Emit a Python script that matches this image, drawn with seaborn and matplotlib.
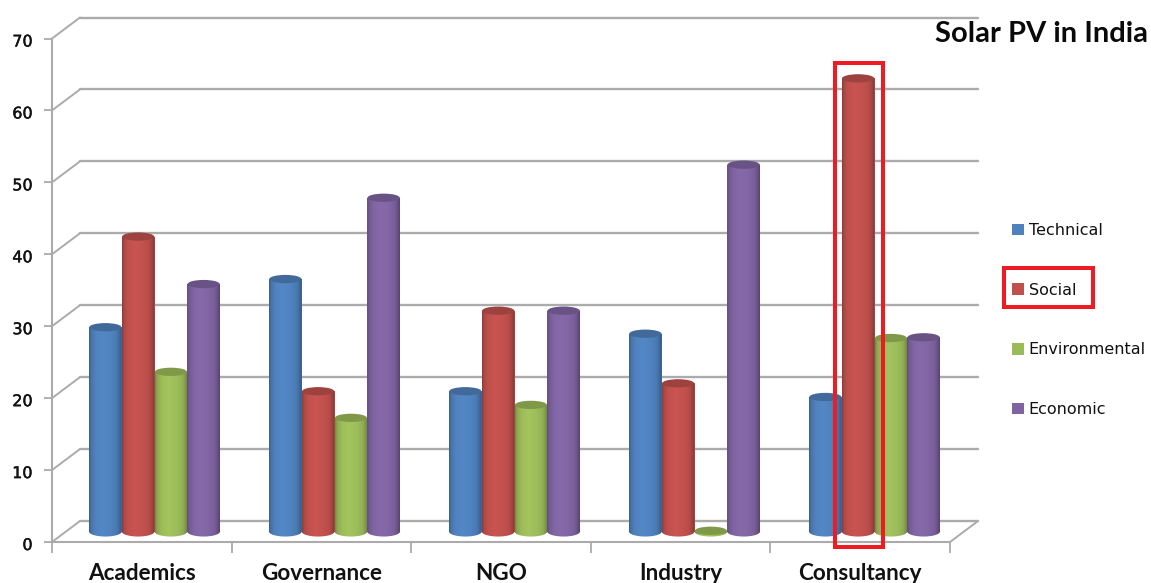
import numpy as np
import pandas as pd
import matplotlib
matplotlib.use("Agg")
import matplotlib.pyplot as plt
import matplotlib.patheffects as pe
from matplotlib.colors import to_rgb
from matplotlib.patches import Ellipse, Polygon, Rectangle
from matplotlib.transforms import Affine2D
import seaborn as sns

# Survey scores per stakeholder group and sustainability dimension
categories = ["Academics", "Governance", "NGO", "Industry", "Consultancy"]
technical = [28.4, 35.1, 19.5, 27.5, 18.7]
social = [41.0, 19.5, 30.7, 20.6, 63.0]
environmental = [22.2, 15.8, 17.6, 0.1, 26.9]
economic = [34.4, 46.4, 30.7, 51.0, 27.0]
dimensions = ["Technical", "Social", "Environmental", "Economic"]
colors = ["#4f81bd", "#c0504d", "#9bbb59", "#8064a2"]
y_ticks = [0, 10, 20, 30, 40, 50, 60, 70]

W, H = 1151, 583
GRID = "#ababab"
TEXT = "#111111"

sns.set_theme(style="white")
plt.rcParams["font.family"] = ["DejaVu Sans"]

fig = plt.figure(figsize=(W / 100, H / 100), dpi=100, facecolor="white")


def axes_px(left, right, top, bottom):
    """Axes placed by pixel edges, measured from the top-left corner."""
    return fig.add_axes([left / W, 1 - bottom / H, (right - left) / W, (bottom - top) / H])


# Front plane of the pseudo-3D box: carries the axes, ticks and labels
ax = axes_px(52, 950, 38.5, 542)
ax.set_xlim(-0.5, 4.5)
ax.set_ylim(0, 70)
ax.patch.set_alpha(0)
for side in ("top", "right"):
    ax.spines[side].set_visible(False)
for side in ("left", "bottom"):
    ax.spines[side].set_color(GRID)
    ax.spines[side].set_linewidth(1.5)
ax.set_yticks(y_ticks)
ax.set_yticklabels([str(v) for v in y_ticks], fontsize=11.5, color=TEXT)
ax.tick_params(axis="y", left=True, length=6, width=1.3, color=GRID, pad=8)
for label in ax.get_yticklabels():
    label.set_transform(label.get_transform() + Affine2D().translate(0, -2))
    label.set_path_effects([pe.withStroke(linewidth=0.3, foreground=TEXT)])
ax.set_xticks(range(len(categories)))
ax.set_xticklabels(categories, fontsize=16.2, fontweight="bold", family="Lato", color=TEXT)
ax.tick_params(axis="x", bottom=False, pad=9)
ax.set_xticks(np.arange(-0.5, 5), minor=True)
ax.tick_params(axis="x", which="minor", bottom=True, length=8, width=1.3, color=GRID)

# Back wall and floor: the same value scale pushed back by a fixed pixel offset
depth = Affine2D().translate(28, 21)
back = ax.transData + depth
for v in y_ticks:
    ax.plot([-0.5, 4.5], [v, v], transform=back, color=GRID, lw=1.7, clip_on=False, zorder=1)
    p0 = ax.transData.transform((-0.5, v))
    p1 = back.transform((-0.5, v))
    ax.plot([p0[0], p1[0]], [p0[1], p1[1]], transform=None, color=GRID, lw=1.4, clip_on=False, zorder=1)
p0 = ax.transData.transform((4.5, 0))
p1 = back.transform((4.5, 0))
ax.plot([p0[0], p1[0]], [p0[1], p1[1]], transform=None, color=GRID, lw=1.4, clip_on=False, zorder=1)

# Columns stand half way into the box
ax_bars = axes_px(64.5, 964.5, 28, 531.5)
ax_bars.patch.set_alpha(0)
table = pd.DataFrame({
    "Group": categories * 4,
    "Dimension": np.repeat(dimensions, len(categories)),
    "Score": technical + social + environmental + economic,
})
sns.barplot(data=table, x="Group", y="Score", hue="Dimension", order=categories,
            hue_order=dimensions, palette=colors, width=0.728, gap=0, saturation=1,
            errorbar=None, linewidth=0, ax=ax_bars)
ax_bars.set_xlim(-0.5, 4.5)
ax_bars.set_ylim(0, 70)
ax_bars.set_axis_off()

# Cylinder look: a horizontal shading ramp clipped to each column, plus elliptical caps
stops = [0.0, 0.06, 0.2, 0.42, 0.68, 0.85, 0.94, 1.0]
shade = [0.74, 0.9, 1.01, 1.05, 1.01, 0.94, 0.8, 0.68]
ramp = np.interp(np.linspace(0, 1, 64), stops, shade)
cap_h = 1.15
arc = np.linspace(np.pi, 2 * np.pi, 40)

for color, container in zip(colors, ax_bars.containers):
    base = np.array(to_rgb(color))
    pixels = np.clip(ramp[:, None] * base, 0, 1)[None, :, :]
    for bar in container:
        x0, w, h = bar.get_x(), bar.get_width(), bar.get_height()
        cx = x0 + w / 2
        z = 3 + cx
        img = ax_bars.imshow(pixels, extent=(x0, x0 + w, -cap_h, h), aspect="auto",
                             interpolation="bilinear", zorder=z)
        outline = np.column_stack([cx + w / 2 * np.cos(arc), 0.7 * np.sin(arc)])
        outline = np.vstack([outline, [x0 + w, h], [x0, h]])
        img.set_clip_box(fig.bbox)
        img.set_clip_path(Polygon(outline, closed=True, transform=ax_bars.transData))
        ax_bars.add_patch(Ellipse((cx, h), w * 0.98, cap_h, facecolor=base * 0.82,
                                  edgecolor="none", zorder=z + 0.01, clip_on=False))
ax_bars.set_xlim(-0.5, 4.5)
ax_bars.set_ylim(0, 70)

sns.move_legend(ax_bars, loc="upper left", bbox_to_anchor=(1012 / W, 1 - 223 / H),
                bbox_transform=fig.transFigure, frameon=False, title=None, fontsize=11.5,
                labelspacing=2.8, handlelength=0.75, handleheight=0.75,
                handletextpad=0.3, borderpad=0, borderaxespad=0)
for label in ax_bars.get_legend().get_texts():
    label.set_color(TEXT)

# Highlight frames around the Consultancy/Social column and its legend entry
for left, right, top, bottom in [(835, 883, 63, 547), (1004, 1093, 268, 307)]:
    fig.add_artist(Rectangle((left / W, 1 - bottom / H), (right - left) / W, (bottom - top) / H,
                             transform=fig.transFigure, fill=False, edgecolor="#ed1c24",
                             linewidth=2.9, zorder=10))

fig.text(1148 / W, 1 - 41.5 / H, "Solar PV in India", ha="right", va="baseline",
         fontsize=21, fontweight="bold", family="Lato", color="#0a0a0a", zorder=11)

fig.savefig("out.png", dpi=100, facecolor="white")
